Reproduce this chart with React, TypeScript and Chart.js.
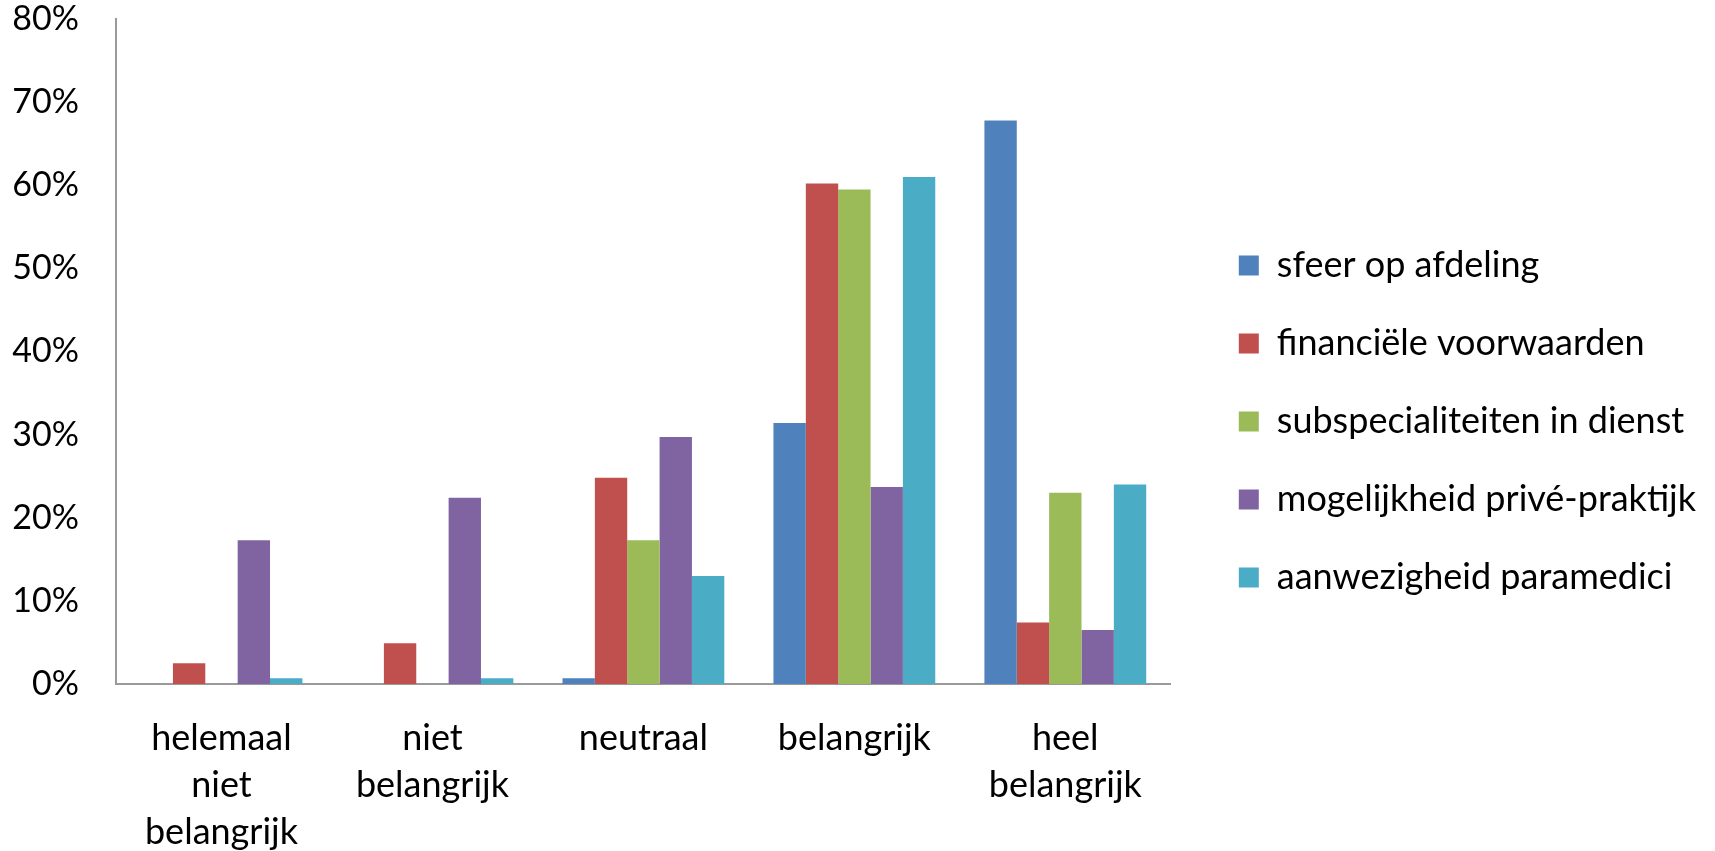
import React, { useEffect, useRef } from "react";
import { Chart, registerables } from "chart.js";

Chart.register(...registerables);

const categories: (string | string[])[] = [
  ["helemaal", "niet", "belangrijk"],
  ["niet", "belangrijk"],
  "neutraal",
  "belangrijk",
  ["heel", "belangrijk"],
];

const seriesNames = [
  "sfeer op afdeling",
  "financiële voorwaarden",
  "subspecialiteiten in dienst",
  "mogelijkheid privé-praktijk",
  "aanwezigheid paramedici",
];

const sfeer = [0, 0, 0.7, 31.4, 67.8];
const financieel = [2.5, 4.9, 24.8, 60.2, 7.4];
const subspecialiteiten = [0, 0, 17.3, 59.5, 23.0];
const privePraktijk = [17.3, 22.4, 29.7, 23.7, 6.5];
const paramedici = [0.7, 0.7, 13.0, 61.0, 24.0];

const seriesColors = ["#4F81BD", "#C0504D", "#9BBB59", "#8064A2", "#4BACC6"];

const yMax = 80;
const yStep = 10;

const FONT = "Lato, 'Open Sans', sans-serif";

// gap between the plot area and the legend block
const LEGEND_DX = 26;
const LEGEND_DY = -4;

const legendShift = {
  id: "legendShift",
  afterLayout(chart: any) {
    const lg = chart.legend;
    if (!lg) return;
    lg.left += LEGEND_DX;
    lg.right += LEGEND_DX;
    lg.top += LEGEND_DY;
    lg.bottom += LEGEND_DY;
  },
};

export default function App() {
  const ref = useRef<HTMLCanvasElement | null>(null);

  useEffect(() => {
    if (!ref.current) return;
    const values = [sfeer, financieel, subspecialiteiten, privePraktijk, paramedici];
    const chart = new Chart(ref.current, {
      type: "bar",
      data: {
        labels: categories,
        datasets: values.map((v, i) => ({
          label: seriesNames[i],
          data: v,
          backgroundColor: seriesColors[i],
          borderWidth: 0,
          categoryPercentage: 0.767,
          barPercentage: 1,
        })),
      },
      plugins: [legendShift],
      options: {
        animation: false,
        responsive: false,
        devicePixelRatio: 1,
        layout: { padding: { top: 0, right: 35, bottom: 0, left: 0 } },
        plugins: {
          tooltip: { enabled: false },
          legend: {
            position: "right",
            align: "center",
            maxWidth: 800,
            labels: {
              boxWidth: 20,
              boxHeight: 20,
              padding: 42,
              color: "#000",
              font: { family: FONT, size: 36 },
            },
          },
        },
        scales: {
          x: {
            grid: { display: false, drawTicks: false },
            border: { display: true, color: "#9a9a9a", width: 2 },
            ticks: {
              color: "#000",
              font: { family: FONT, size: 36, lineHeight: 1.3 },
              padding: 31,
              maxRotation: 0,
              autoSkip: false,
            },
            afterFit: (scale: any) => {
              scale.height = 167;
              scale.paddingLeft = 0;
              scale.paddingRight = 0;
            },
          },
          y: {
            min: 0,
            max: yMax,
            grid: { display: false, drawTicks: false },
            border: { display: true, color: "#9a9a9a", width: 2 },
            ticks: {
              stepSize: yStep,
              color: "#000",
              font: { family: FONT, size: 34 },
              padding: 37,
              callback: (v) => `${v}%`,
            },
            afterFit: (scale: any) => {
              scale.width = 116;
              scale.paddingTop = 19;
              scale.paddingBottom = 0;
            },
          },
        },
      },
    });
    return () => chart.destroy();
  }, []);

  return (
    <div style={{ position: "fixed", left: 0, top: 0, width: 1715, height: 851, background: "#fff" }}>
      <canvas ref={ref} width={1715} height={851} style={{ width: 1715, height: 851 }} />
    </div>
  );
}
